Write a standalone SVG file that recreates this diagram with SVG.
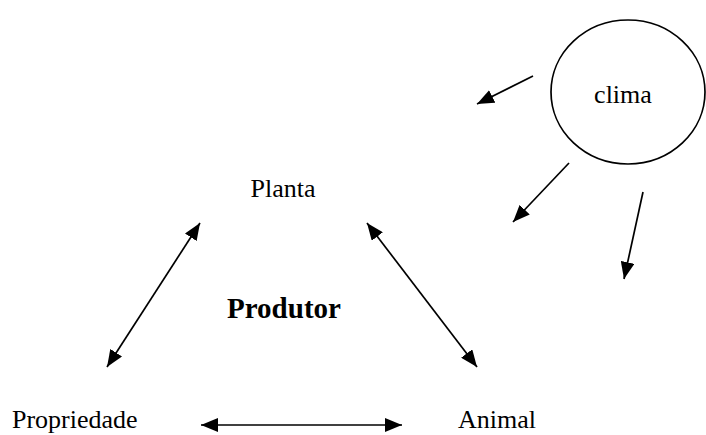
<svg xmlns="http://www.w3.org/2000/svg" width="706" height="435" viewBox="0 0 706 435">
<style>
  .t { font-family: "Liberation Serif", "Times New Roman", serif; font-size: 26px; fill: #000; }
  .b { font-weight: bold; font-size: 29px; }
  .ln { stroke: #000; stroke-width: 1.7; fill: none; }
</style>
<defs>
  <marker id="ah" markerWidth="17" markerHeight="14" refX="17" refY="7" orient="auto-start-reverse" markerUnits="userSpaceOnUse">
    <path d="M0,0 L17,7 L0,14 Z" fill="#000"/>
  </marker>
</defs>
<rect width="706" height="435" fill="#fff"/>
<g id="clima">
  <ellipse cx="628" cy="92" rx="77" ry="72" fill="none" stroke="#000" stroke-width="1.7"/>
  <text class="t" x="623" y="103" text-anchor="middle">clima</text>
</g>
<g id="planta"><text class="t" x="283" y="197" text-anchor="middle">Planta</text></g>
<g id="produtor"><text class="t b" x="284" y="318" text-anchor="middle">Produtor</text></g>
<g id="propriedade"><text class="t" x="12" y="428">Propriedade</text></g>
<g id="animal"><text class="t" x="458" y="428">Animal</text></g>
<g id="connectors">
  <line class="ln" x1="533" y1="76" x2="477" y2="104" marker-end="url(#ah)"/>
  <line class="ln" x1="569" y1="163" x2="513" y2="222" marker-end="url(#ah)"/>
  <line class="ln" x1="643" y1="192" x2="624" y2="279" marker-end="url(#ah)"/>
  <line class="ln" x1="200" y1="223" x2="107" y2="367" marker-start="url(#ah)" marker-end="url(#ah)"/>
  <line class="ln" x1="367" y1="223" x2="477" y2="367" marker-start="url(#ah)" marker-end="url(#ah)"/>
  <line class="ln" x1="201" y1="425" x2="402" y2="425" marker-start="url(#ah)" marker-end="url(#ah)"/>
</g>
</svg>
